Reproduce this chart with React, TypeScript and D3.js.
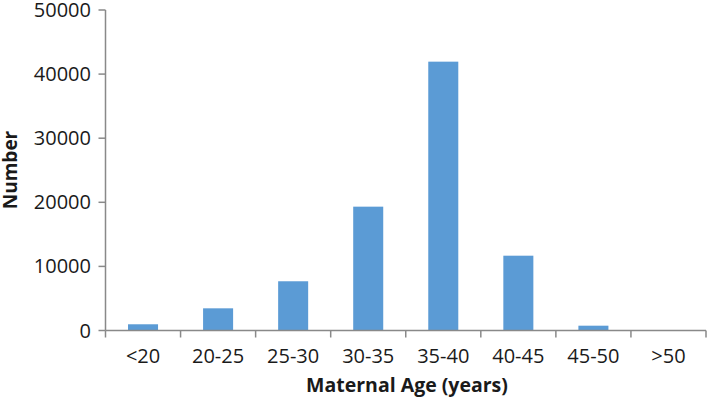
import React from "react";
import * as d3 from "d3";

const categories = ["<20", "20-25", "25-30", "30-35", "35-40", "40-45", "45-50", ">50"];
const values = [970, 3460, 7680, 19320, 41940, 11670, 750, 0];
const yTicks = [0, 10000, 20000, 30000, 40000, 50000];

const W = 709;
const H = 400;
const left = 105.5;
const right = 706;
const top = 10;
const bottom = 330.5;
const font = "'Open Sans', sans-serif";
const axisColor = "#898989";

export default function App() {
  const x = d3.scaleBand<string>().domain(categories).range([left, right]).paddingInner(0.6).paddingOuter(0.3);
  const xb = d3.scaleBand<string>().domain(categories).range([left, right]);
  const y = d3.scaleLinear().domain([0, 50000]).range([bottom, top]);

  return (
    <svg width={W} height={H} style={{ position: "absolute", left: 0, top: 0, background: "#fff" }}>
      {categories.map((c, i) => (
        <rect key={c} x={x(c)} y={y(values[i])} width={x.bandwidth()} height={bottom - y(values[i])} fill="#5b9bd5" />
      ))}
      {/* y axis */}
      <line x1={left} x2={left} y1={top} y2={bottom} stroke={axisColor} strokeWidth={1.5} />
      {yTicks.map((t) => (
        <g key={t}>
          <line x1={left - 7} x2={left} y1={y(t)} y2={y(t)} stroke={axisColor} strokeWidth={1.5} />
          <text x={91} y={y(t)} dy="0.35em" textAnchor="end" fontFamily={font} fontSize={20} fill="#1a1a1a">
            {t}
          </text>
        </g>
      ))}
      {/* x axis */}
      <line x1={left} x2={right} y1={bottom} y2={bottom} stroke={axisColor} strokeWidth={1.5} />
      {categories.map((c) => (
        <line key={"t" + c} x1={xb(c)!} x2={xb(c)!} y1={bottom} y2={bottom + 7} stroke={axisColor} strokeWidth={1.5} />
      ))}
      <line x1={right} x2={right} y1={bottom} y2={bottom + 7} stroke={axisColor} strokeWidth={1.5} />
      {categories.map((c) => (
        <text key={"l" + c} x={xb(c)! + xb.bandwidth() / 2} y={363} textAnchor="middle" fontFamily={font} fontSize={20} fill="#1a1a1a">
          {c}
        </text>
      ))}
      <text x={407} y={392} textAnchor="middle" fontFamily={font} fontSize={19.5} fontWeight="bold" fill="#1a1a1a">
        Maternal Age (years)
      </text>
      <text transform={`translate(17,170) rotate(-90)`} textAnchor="middle" fontFamily={font} fontSize={19} fontWeight="bold" fill="#1a1a1a">
        Number
      </text>
    </svg>
  );
}
